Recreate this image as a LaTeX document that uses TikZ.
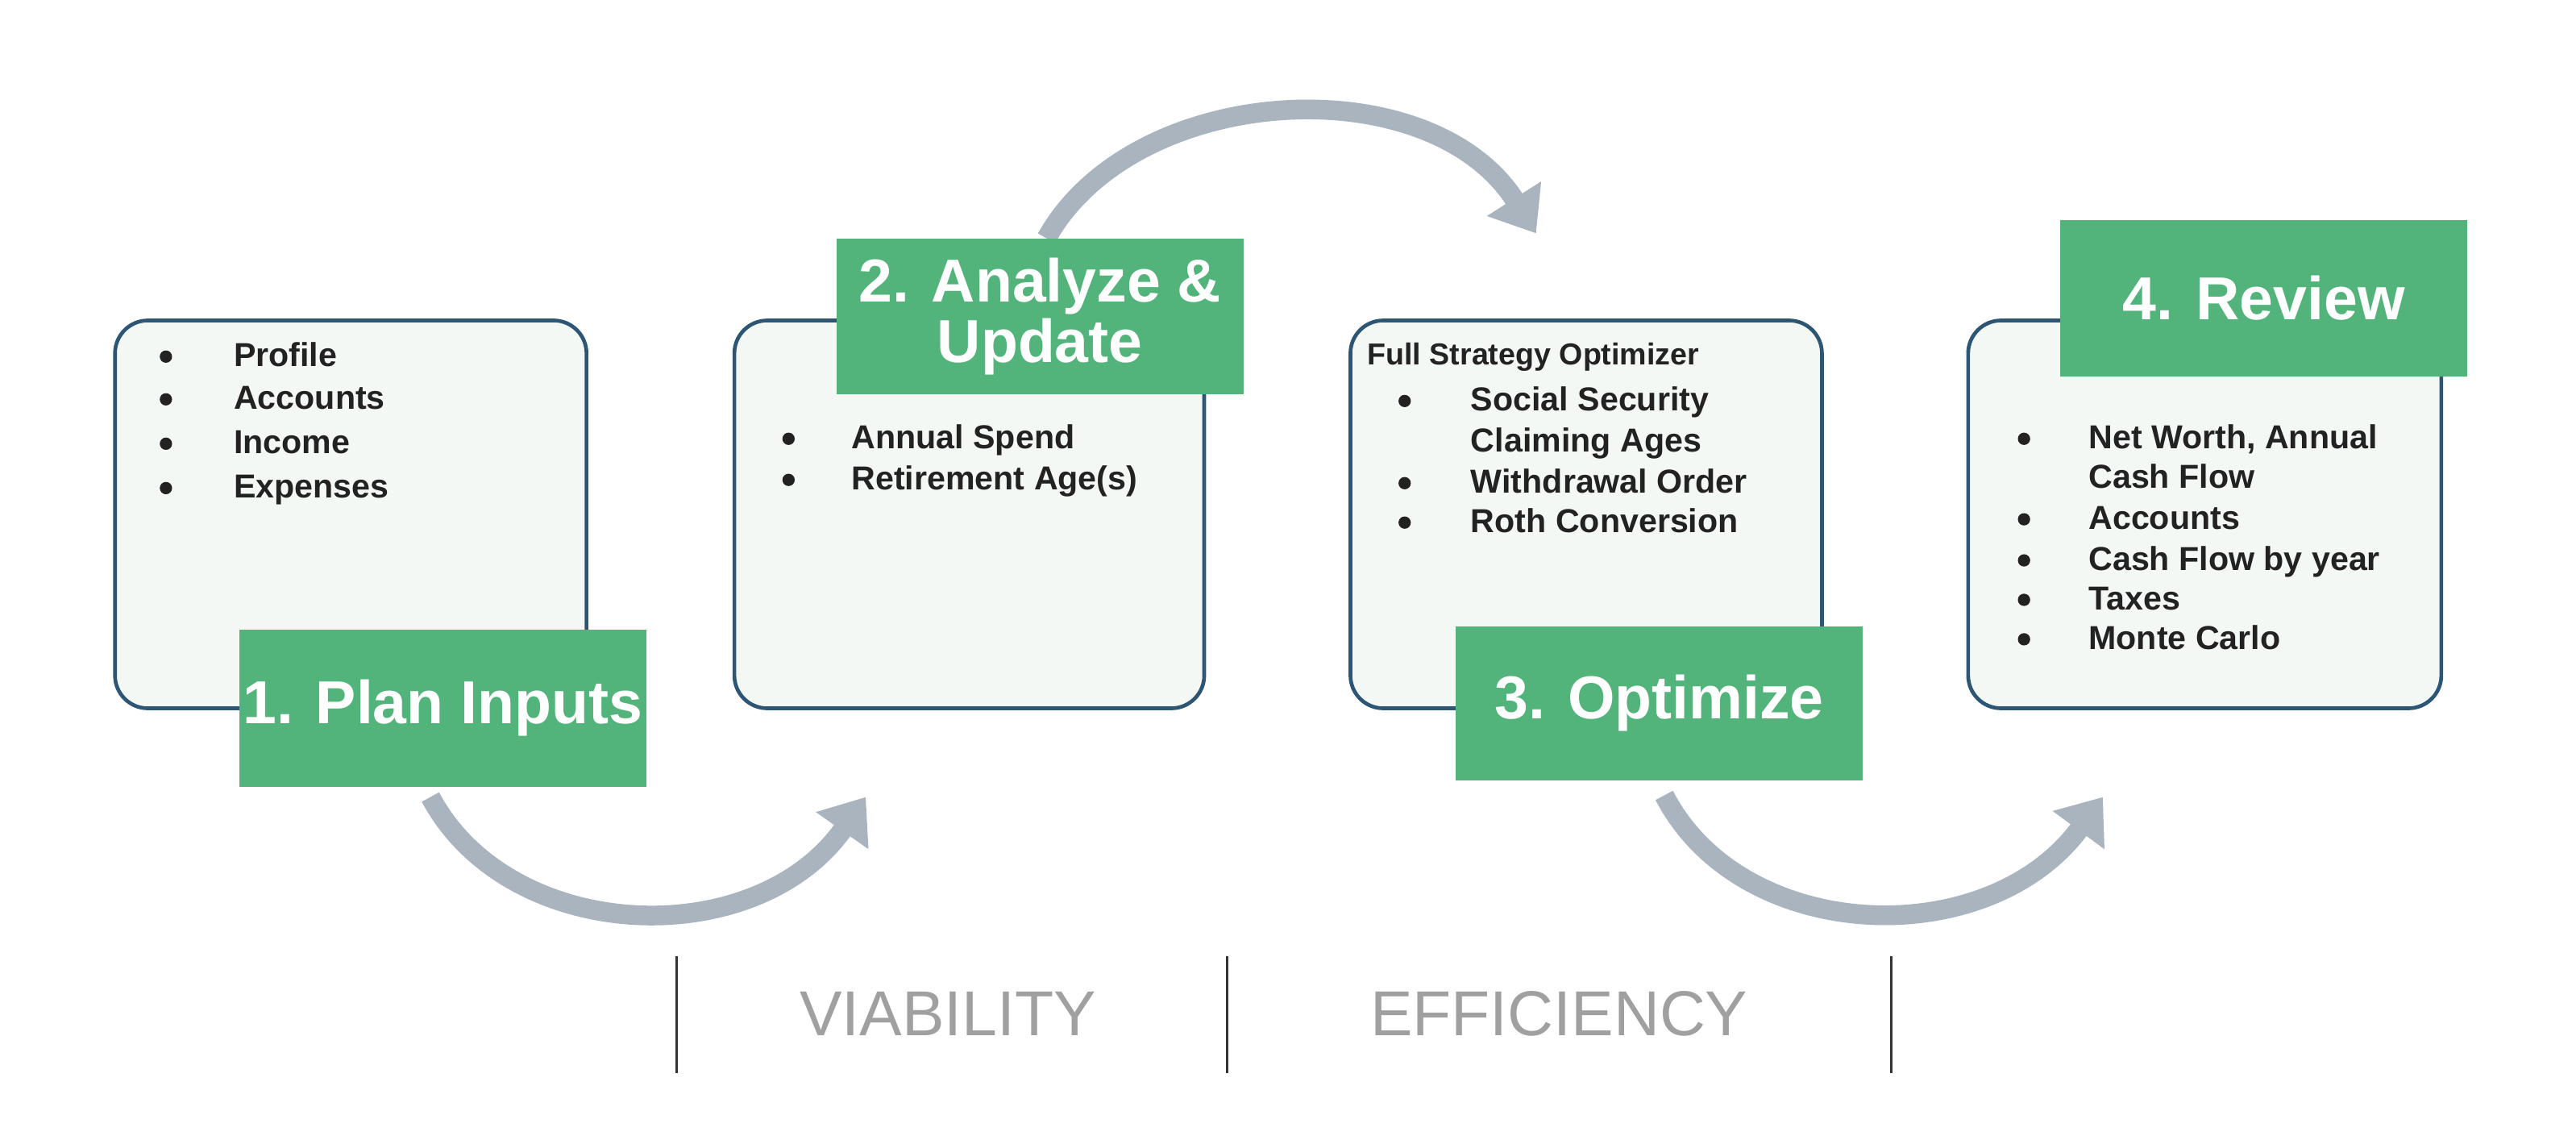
\documentclass[tikz,border=0pt]{standalone}
\usepackage{fontspec}
\setmainfont{Liberation Sans}
\usetikzlibrary{arrows.meta}
\definecolor{boxfill}{HTML}{F4F8F5}
\definecolor{boxline}{HTML}{2D5675}
\definecolor{lab}{HTML}{52B47A}
\definecolor{arr}{HTML}{A9B4BF}
\definecolor{txt}{HTML}{222222}
\definecolor{sep}{HTML}{A0A0A0}
\begin{document}
\begin{tikzpicture}[x=0.02cm,y=-0.02cm,
  box/.style={draw=boxline,line width=1.3pt,fill=boxfill,rounded corners=0.4cm},
  lab/.style={fill=lab,text=white,font=\bfseries\fontsize{21}{24}\selectfont,align=center,inner sep=0pt},
  it/.style={anchor=base west,text=txt,font=\bfseries\fontsize{11.5}{13}\selectfont,inner sep=0pt},
  bul/.style={circle,fill=txt,inner sep=0pt,minimum size=0.15cm},
  arw/.style={draw=arr,line width=0.24cm,-{Triangle[width=0.75cm,length=0.5cm]}},
  sepl/.style={draw=black!80,line width=0.8pt},
  captxt/.style={text=sep,font=\fontsize{22}{26}\selectfont,inner sep=0pt}]
\useasboundingbox (0,0) rectangle (1568,691);
\fill[white] (0,0) rectangle (1568,691);
% arrows
\coordinate (a1s) at (262,485); \coordinate (a1e) at (527,485);
\coordinate (a2s) at (637,145); \coordinate (a2e) at (935,142);
\coordinate (a3s) at (1013,484); \coordinate (a3e) at (1280,485);
\draw[arw] (a1s) .. controls (310,575) and (460,580) .. (a1e);
\draw[arw] (a2s) .. controls (690,50) and (870,40) .. (a2e);
\draw[arw] (a3s) .. controls (1060,575) and (1210,580) .. (a3e);
% boxes
\draw[box] (70,195) rectangle (357,431);
\draw[box] (447,195) rectangle (733,431);
\draw[box] (822,195) rectangle (1109,431);
\draw[box] (1198,195) rectangle (1486,431);
% labels
\node[lab,minimum width=4.96cm,minimum height=1.92cm] (l1) at (269.5,431) {1. Plan Inputs};
\node[lab,minimum width=4.96cm,minimum height=1.9cm] (l2) at (633,192.5) {2. Analyze \&\\[-3pt]Update};
\node[lab,minimum width=4.96cm,minimum height=1.88cm] (l3) at (1010,428) {3. Optimize};
\node[lab,minimum width=4.96cm,minimum height=1.9cm] (l4) at (1378,181.5) {4. Review};
% box 1
\foreach \t/\y [count=\i] in {Profile/223,Accounts/249,Income/276,Expenses/303}{
  \node[bul] (p1b\i) at (101,{\y-6}) {};
  \node[it] (p1t\i) at (142,\y) {\t};}
% box 2
\foreach \t/\y [count=\i] in {Annual Spend/273,Retirement Age(s)/298}{
  \node[bul] (p2b\i) at (480,{\y-6}) {};
  \node[it] (p2t\i) at (518,\y) {\t};}
% box 3
\node[it,font=\bfseries\fontsize{10.5}{12}\selectfont] (p3h) at (832,222) {Full Strategy Optimizer};
\node[bul] (p3b1) at (855,244) {};
\node[it] (p3t1) at (895,250) {Social Security};
\node[it] (p3t1b) at (895,275) {Claiming Ages};
\node[bul] (p3b2) at (855,294) {};
\node[it] (p3t2) at (895,300) {Withdrawal Order};
\node[bul] (p3b3) at (855,318) {};
\node[it] (p3t3) at (895,324) {Roth Conversion};
% box 4
\node[bul] (p4b1) at (1232,267) {};
\node[it] (p4t1) at (1271,273) {Net Worth, Annual};
\node[it] (p4t1b) at (1271,297) {Cash Flow};
\foreach \t/\y [count=\i] in {Accounts/322,Cash Flow by year/347,Taxes/371,Monte Carlo/395}{
  \node[bul] (p4c\i) at (1232,{\y-6}) {};
  \node[it] (p4s\i) at (1271,\y) {\t};}
% separators
\coordinate (s1t) at (412,582); \coordinate (s1b) at (412,653);
\coordinate (s2t) at (747,582); \coordinate (s2b) at (747,653);
\coordinate (s3t) at (1151,582); \coordinate (s3b) at (1151,653);
\draw[sepl] (s1t) -- (s1b); \draw[sepl] (s2t) -- (s2b); \draw[sepl] (s3t) -- (s3b);
\node[captxt] (v) at (577,617) {VIABILITY};
\node[captxt] (e) at (949,617) {EFFICIENCY};
\end{tikzpicture}
\end{document}
